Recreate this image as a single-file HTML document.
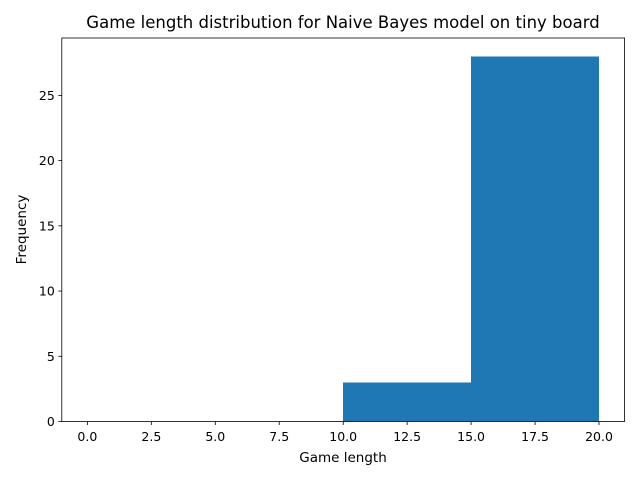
<!DOCTYPE html>
<html><head><meta charset="utf-8"><style>
body{margin:0;background:#fff;}
svg text{font-family:"DejaVu Sans","Liberation Sans",sans-serif;fill:#000;}
</style></head><body>
<svg id="chart" width="640" height="480" xmlns="http://www.w3.org/2000/svg">
<rect width="640" height="480" fill="#fff"/>
<text x="343" y="28" font-size="16.5" text-anchor="middle">Game length distribution for Naive Bayes model on tiny board</text>
<g id="bars" shape-rendering="crispEdges"></g>
<g id="axes"></g>
<text x="343" y="462" font-size="13.5" text-anchor="middle">Game length</text>
<text transform="translate(26,229.5) rotate(-90)" font-size="13.5" text-anchor="middle">Frequency</text>
</svg>
<script>
const binEdges = [0, 5, 10, 15, 20];
const counts = [0, 0, 3, 28];
const xTicks = [0, 2.5, 5, 7.5, 10, 12.5, 15, 17.5, 20];
const yTicks = [0, 5, 10, 15, 20, 25];

const L=61.8,R=624.6,T=38,B=421.5;
const xMin=-1,xMax=21,yMax=29.4;
const xs=v=>L+(v-xMin)/(xMax-xMin)*(R-L);
const ys=v=>B-v/yMax*(B-T);
const NS="http://www.w3.org/2000/svg";
const bars=document.getElementById('bars'),axes=document.getElementById('axes');
function mk(tag,attrs,parent){const e=document.createElementNS(NS,tag);for(const k in attrs)e.setAttribute(k,attrs[k]);parent.appendChild(e);return e;}
counts.forEach((c,i)=>{
  const x0=xs(binEdges[i]),x1=xs(binEdges[i+1]);
  const r=mk('rect',{x:x0,y:ys(c),width:x1-x0,height:B-ys(c),fill:'#1f77b4'},bars);
  
  
});
const f=mk('rect',{x:L,y:T,width:R-L,height:B-T,fill:'none',stroke:'#000','stroke-width':0.8},axes);


xTicks.forEach(t=>{
  const x=xs(t);
  mk('line',{x1:x,x2:x,y1:B,y2:B+3.5,stroke:'#000','stroke-width':0.8},axes);
  const tx=mk('text',{x:x,y:B+19.5,'font-size':12.5,'text-anchor':'middle'},axes);
  tx.textContent=t.toFixed(1);
  
  
});
yTicks.forEach(t=>{
  const y=ys(t);
  mk('line',{x1:L-3.5,x2:L,y1:y,y2:y,stroke:'#000','stroke-width':0.8},axes);
  const tx=mk('text',{x:L-7,y:y+4.5,'font-size':12.5,'text-anchor':'end'},axes);
  tx.textContent=t;
  
  
});
</script>
</body></html>
